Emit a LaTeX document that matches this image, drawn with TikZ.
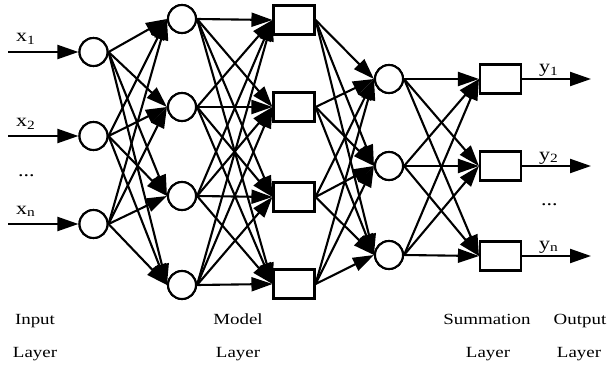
\documentclass[tikz,border=0pt]{standalone}
\usepackage{fontspec}
\setmainfont{Liberation Serif}[FakeStretch=1.22]
\usetikzlibrary{arrows.meta}
\tikzset{
  neuron/.style={circle,draw,line width=2.1pt,fill=white,inner sep=0pt,minimum size=28pt},
  unit/.style={rectangle,draw,line width=2.1pt,fill=white,inner sep=0pt,minimum width=41pt,minimum height=29pt},
  conn/.style={line width=2.1pt,-{Triangle[length=21pt,width=14pt]}},
  lbl/.style={font=\fontsize{15.5}{18}\selectfont,inner sep=0pt,anchor=base},
  var/.style={font=\fontsize{18}{20}\selectfont,inner sep=0pt,anchor=base west}
}
\begin{document}
\begin{tikzpicture}[x=1pt,y=-1pt]
\useasboundingbox (0,0) rectangle (609,366);
% input layer
\node[neuron] (i1) at (93.5,52) {};
\node[neuron] (i2) at (93.5,136) {};
\node[neuron] (i3) at (93.5,224) {};
% second layer circles
\node[neuron] (h1) at (182,19) {};
\node[neuron] (h2) at (182,107) {};
\node[neuron] (h3) at (182,196) {};
\node[neuron] (h4) at (182,285) {};
% model layer rects
\node[unit] (m1) at (294,20) {};
\node[unit] (m2) at (294,107) {};
\node[unit] (m3) at (294,197) {};
\node[unit] (m4) at (294,284) {};
% third layer circles
\node[neuron] (p1) at (389,79) {};
\node[neuron] (p2) at (389,166) {};
\node[neuron] (p3) at (389,255) {};
% summation rects
\node[unit] (s1) at (500.5,79) {};
\node[unit] (s2) at (500.5,166) {};
\node[unit] (s3) at (500.5,256) {};
% input/output free ends
\coordinate (a1) at (8,52);
\coordinate (a2) at (8,136);
\coordinate (a3) at (8,224);
\coordinate (o1) at (591,79);
\coordinate (o2) at (591,166);
\coordinate (o3) at (591,256);
\foreach \k in {1,2,3}{
  \draw[conn] (a\k) -- (i\k.west);
  \draw[conn] (s\k.east) -- (o\k);
}
\foreach \a in {1,2,3}{\foreach \b in {1,2,3,4}{\draw[conn] (i\a.east) -- (h\b.west);}}
\foreach \a in {1,2,3,4}{\foreach \b in {1,2,3,4}{\draw[conn] (h\a.east) -- (m\b.west);}}
\foreach \a in {1,2,3,4}{\foreach \b in {1,2,3}{\draw[conn] (m\a.east) -- (p\b.west);}}
\foreach \a in {1,2,3}{\foreach \b in {1,2,3}{\draw[conn] (p\a.east) -- (s\b.west);}}
% redraw nodes on top
\foreach \n in {i1,i2,i3,h1,h2,h3,h4,p1,p2,p3}{\node[neuron] at (\n) {};}
\foreach \n in {m1,m2,m3,m4,s1,s2,s3}{\node[unit] at (\n) {};}
% variable labels
\node[var] (x1) at (16,42) {x\textsubscript{1}};
\node[var] (x2) at (16,127) {x\textsubscript{2}};
\node[var] (xd) at (18,176) {...};
\node[var] (xn) at (16,214) {x\textsubscript{n}};
\node[var] (y1) at (539,73) {y\textsubscript{1}};
\node[var] (y2) at (539,160) {y\textsubscript{2}};
\node[var] (yd) at (541,205) {...};
\node[var] (yn) at (539,249) {y\textsubscript{n}};
% layer labels
\node[lbl] (l1a) at (35,324) {Input};
\node[lbl] (l1b) at (35,357) {Layer};
\node[lbl] (l2a) at (238,324) {Model};
\node[lbl] (l2b) at (238,357) {Layer};
\node[lbl] (l3a) at (487,324) {Summation};
\node[lbl] (l3b) at (488,357) {Layer};
\node[lbl] (l4a) at (580,324) {Output};
\node[lbl] (l4b) at (579,357) {Layer};
\end{tikzpicture}
\end{document}
